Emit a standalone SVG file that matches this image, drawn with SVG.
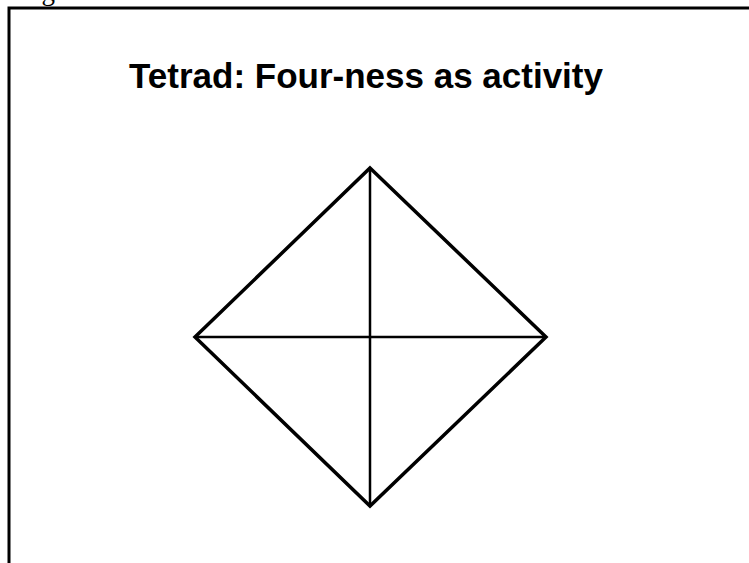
<svg xmlns="http://www.w3.org/2000/svg" width="749" height="563" viewBox="0 0 749 563">
<style>
.frame{fill:none;stroke:#000;stroke-width:3}
.outline{fill:none;stroke:#000;stroke-width:3.5;stroke-linejoin:miter}
.cross{fill:none;stroke:#000;stroke-width:2.5}
.title{font-family:"Liberation Sans",Arial,sans-serif;font-weight:bold;font-size:35px;fill:#000}
.cap{font-family:"Liberation Serif","Times New Roman",serif;font-size:27px;fill:#000}
</style>
<rect width="749" height="563" fill="#fff"/>
<text class="cap" x="19" y="0">Figure</text>
<path class="frame" d="M9,563 V8 H749"/>
<text class="title" x="366" y="88" text-anchor="middle">Tetrad: Four-ness as activity</text>
<g id="tetrad">
<polygon class="outline" points="370,168 546,337 370,506 195,337"/>
</g>
<g id="connectors">
<line class="cross" x1="370" y1="168" x2="370" y2="506"/>
<line class="cross" x1="195" y1="337" x2="546" y2="337"/>
</g>
</svg>
